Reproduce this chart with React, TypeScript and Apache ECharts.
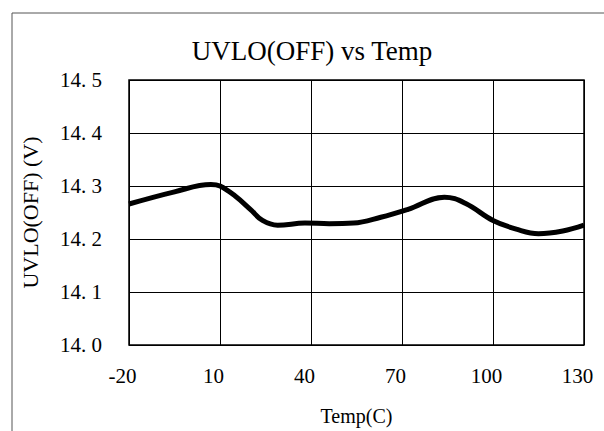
import React, { useEffect, useRef } from "react";
import * as echarts from "echarts";

const temps = [-20, -5, 7, 10, 15, 20, 24, 29, 38, 46, 54, 63, 72, 84, 91, 100, 108, 115, 123, 130];
const uvloOff = [14.266, 14.289, 14.303, 14.3, 14.281, 14.256, 14.235, 14.226, 14.23, 14.229, 14.23, 14.241, 14.256, 14.279, 14.267, 14.235, 14.218, 14.21, 14.215, 14.226];
const xTicks = [-20, 10, 40, 70, 100, 130];
const yTicks = [14.0, 14.1, 14.2, 14.3, 14.4, 14.5];

const SERIF = "Liberation Serif";

export default function App() {
  const ref = useRef<HTMLDivElement>(null);
  useEffect(() => {
    if (!ref.current) return;
    const chart = echarts.init(ref.current, undefined, { renderer: "svg" });
    chart.setOption({
      animation: false,
      backgroundColor: "#fff",
      title: {
        text: "UVLO(OFF) vs Temp",
        left: 307,
        top: 46,
        textAlign: "center",
        textVerticalAlign: "middle",
        textStyle: { fontFamily: SERIF, fontSize: 27, fontWeight: "normal", color: "#000" },
      },
      graphic: [
        { type: "line", shape: { x1: 12, y1: 13, x2: 604, y2: 13 }, style: { stroke: "#555", lineWidth: 1 } },
        { type: "line", shape: { x1: 12, y1: 13, x2: 12, y2: 431 }, style: { stroke: "#555", lineWidth: 1 } },
      ],
      grid: {
        left: 129,
        right: 20,
        top: 80,
        bottom: 86,
        show: true,
        borderColor: "#000",
        borderWidth: 1.5,
      },
      xAxis: {
        type: "value",
        min: xTicks[0],
        max: xTicks[xTicks.length - 1],
        interval: 30,
        name: "Temp(C)",
        nameLocation: "middle",
        nameGap: 61,
        nameTextStyle: { fontFamily: SERIF, fontSize: 20, color: "#000" },
        axisLine: { show: false },
        axisTick: { show: false },
        axisLabel: { fontFamily: SERIF, fontSize: 21, color: "#000", margin: 20, padding: [0, 13, 0, 0] },
        splitLine: { show: true, lineStyle: { color: "#000", width: 1 } },
      },
      yAxis: {
        type: "value",
        min: yTicks[0],
        max: yTicks[yTicks.length - 1],
        interval: 0.1,
        name: "UVLO(OFF) (V)",
        nameLocation: "middle",
        nameGap: 88,
        nameTextStyle: { fontFamily: SERIF, fontSize: 22, color: "#000" },
        axisLine: { show: false },
        axisTick: { show: false },
        axisLabel: {
          fontFamily: SERIF,
          fontSize: 21,
          color: "#000",
          margin: 27,
          formatter: (v: number) => v.toFixed(1).replace(".", ". "),
        },
        splitLine: { show: true, lineStyle: { color: "#000", width: 1 } },
      },
      series: [
        {
          type: "line",
          data: temps.map((t, i) => [t, uvloOff[i]]),
          smooth: 0.4,
          showSymbol: false,
          lineStyle: { color: "#000", width: 5 },
        },
      ],
    });
    return () => chart.dispose();
  }, []);
  return <div ref={ref} style={{ position: "absolute", left: 0, top: 0, width: 604, height: 431 }} />;
}
